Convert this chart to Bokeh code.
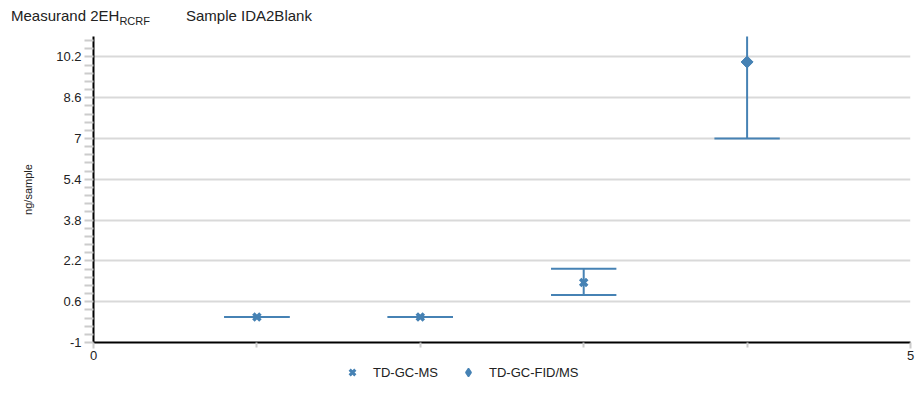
from bokeh.plotting import figure
from bokeh.layouts import column
from bokeh.models import (Range1d, FixedTicker, Legend, LegendItem,
                          ColumnDataSource, Div)
from bokeh.embed import file_html
from bokeh.resources import INLINE

# ---- data ----
ms_x = [1, 2, 3]
ms_val = [0.0, 0.0, 1.35]
ms_low = [0.0, 0.0, 0.86]
ms_up = [0.0, 0.0, 1.89]

fid_x = [4]
fid_val = [10.0]
fid_low = [7.0]
fid_up = [13.0]

y_ticks = [-1, 0.6, 2.2, 3.8, 5.4, 7, 8.6, 10.2]
x_ticks = [0, 5]
x_minor = [1, 2, 3, 4]

series_names = ["TD-GC-MS", "TD-GC-FID/MS"]
title_main = "Measurand 2EH"
title_sub = "RCRF"
title_sample = "Sample IDA2Blank"
y_label = "ng/sample"

COLOR = "#4682b4"
FONT = "Liberation Sans"
TXT = "#222222"
CAP = 0.2
MS_STYLE = dict(marker="x", size=10, line_color=COLOR, line_width=3.5)
FID_STYLE = dict(marker="square", size=8.5, angle=0.785398,
                 fill_color=COLOR, line_color=COLOR, line_width=1)

# ---- header: title with a real subscript ----
header_html = (
    '<div style="position:relative;width:918px;height:36px;'
    "font-family:'Liberation Sans',Arial,sans-serif;color:#222222;\">"
    '<span style="position:absolute;left:11px;top:8px;font-size:15px;'
    'line-height:15px;white-space:nowrap;">' + title_main +
    '<sub style="font-size:11px;vertical-align:-4px;line-height:11px;">' +
    title_sub + '</sub></span>'
    '<span style="position:absolute;left:186px;top:8px;font-size:15px;'
    'line-height:15px;white-space:nowrap;">' + title_sample + '</span>'
    '</div>')
header = Div(text=header_html, width=918, height=36, margin=0)

# ---- main plot ----
p = figure(width=918, height=329, output_backend="svg", toolbar_location=None,
           title=None, x_range=Range1d(0, 5), y_range=Range1d(-1, 11),
           min_border_left=93, min_border_right=8, min_border_top=0,
           min_border_bottom=23, margin=0)
p.outline_line_color = None

def errorbars(xs, lows, ups):
    src = ColumnDataSource(dict(
        x=xs, low=lows, up=ups,
        xl=[x - CAP for x in xs], xr=[x + CAP for x in xs]))
    p.segment(x0="x", y0="low", x1="x", y1="up", source=src,
              line_color=COLOR, line_width=2)
    p.segment(x0="xl", y0="low", x1="xr", y1="low", source=src,
              line_color=COLOR, line_width=2)
    p.segment(x0="xl", y0="up", x1="xr", y1="up", source=src,
              line_color=COLOR, line_width=2)

errorbars(ms_x, ms_low, ms_up)
errorbars(fid_x, fid_low, fid_up)

p.scatter(ms_x, ms_val, **MS_STYLE)
p.scatter(fid_x, fid_val, **FID_STYLE)

# ---- axes ----
xa = p.xaxis[0]
xa.ticker = FixedTicker(ticks=x_ticks, minor_ticks=x_minor)
xa.axis_line_color = "black"
xa.axis_line_width = 2
xa.major_tick_line_color = "#cccccc"
xa.major_tick_line_width = 2
xa.major_tick_out = 6
xa.major_tick_in = 0
xa.minor_tick_line_color = "#cccccc"
xa.minor_tick_line_width = 2
xa.minor_tick_out = 5
xa.minor_tick_in = 0
xa.major_label_standoff = 2
xa.major_label_text_font = FONT
xa.major_label_text_font_size = "13px"
xa.major_label_text_color = TXT

ya = p.yaxis[0]
minor_y = []
for i in range(len(y_ticks) - 1):
    step = (y_ticks[i + 1] - y_ticks[i]) / 5
    minor_y += [y_ticks[i] + step * k for k in range(1, 5)]
step = (y_ticks[1] - y_ticks[0]) / 5
minor_y += [y_ticks[-1] + step * k for k in range(1, 5)]
ya.ticker = FixedTicker(ticks=y_ticks, minor_ticks=minor_y)
ya.major_label_overrides = {-1: "-1", 7: "7"}
ya.axis_line_color = "black"
ya.axis_line_width = 2
ya.major_tick_line_color = "#cccccc"
ya.major_tick_line_width = 2
ya.major_tick_out = 9
ya.major_tick_in = 0
ya.minor_tick_line_color = "#cccccc"
ya.minor_tick_line_width = 2
ya.minor_tick_out = 9
ya.minor_tick_in = 0
ya.major_label_standoff = 3
ya.major_label_text_font = FONT
ya.major_label_text_font_size = "13px"
ya.major_label_text_color = TXT
ya.axis_label = y_label
ya.axis_label_text_font = FONT
ya.axis_label_text_font_size = "11px"
ya.axis_label_text_font_style = "normal"
ya.axis_label_text_color = TXT
ya.axis_label_standoff = 19

p.xgrid.grid_line_color = "#d9d9d9"
p.xgrid.grid_line_width = 2
p.ygrid.grid_line_color = "#d9d9d9"
p.ygrid.grid_line_width = 2

# ---- footer strip holding the series legend ----
foot = figure(width=918, height=47, output_backend="svg", toolbar_location=None,
              title=None, x_range=Range1d(0, 1), y_range=Range1d(0, 1),
              x_axis_type=None, y_axis_type=None,
              min_border_left=93, min_border_right=8, min_border_top=0,
              min_border_bottom=0, margin=0)
foot.outline_line_color = None
foot.grid.visible = False
# legend-only proxies, placed outside the strip's visible range
lg_ms = foot.scatter([-5], [-5], marker="x", line_color=COLOR, line_width=3)
lg_fid = foot.scatter([-5], [-5], marker="diamond", fill_color=COLOR,
                      line_color=COLOR, line_width=1.5)

legend = Legend(items=[LegendItem(label=series_names[0], renderers=[lg_ms]),
                       LegendItem(label=series_names[1], renderers=[lg_fid])],
                location=(249, 30), orientation="horizontal",
                glyph_width=20, glyph_height=20, label_standoff=11,
                label_height=20, spacing=20, padding=0, margin=0,
                border_line_color=None, background_fill_alpha=0,
                label_text_font=FONT, label_text_font_size="13px",
                label_text_color=TXT)
foot.add_layout(legend, "center")

layout = column(header, p, foot, spacing=0, margin=0)
open("out.html", "w").write(file_html(layout, INLINE))
